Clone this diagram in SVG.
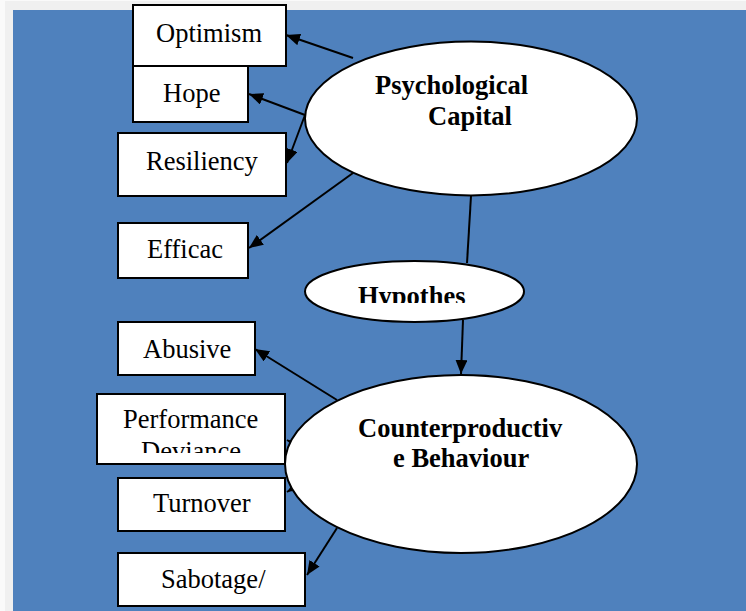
<svg xmlns="http://www.w3.org/2000/svg" width="746" height="611" viewBox="0 0 746 611">
<style>
.box{fill:#fff;stroke:#000;stroke-width:2}
.ell{fill:#fff;stroke:#000;stroke-width:2}
.lbl{font-family:"Liberation Serif","Times New Roman",serif;font-size:26.5px;fill:#000}
.bold{font-family:"Liberation Serif","Times New Roman",serif;font-size:26.5px;font-weight:bold;fill:#000}
.con{stroke:#000;stroke-width:2;fill:none}
</style>
<defs>
<marker id="arr" viewBox="0 0 14 12" refX="14" refY="6" markerWidth="14" markerHeight="12" markerUnits="userSpaceOnUse" orient="auto">
<path d="M0,0 L14,6 L0,12 Z" fill="#000"/>
</marker>
<clipPath id="clipHyp"><rect x="300" y="255" width="230" height="48"/></clipPath>
<clipPath id="clipPerf"><rect x="90" y="390" width="200" height="63"/></clipPath>
</defs>
<rect x="0" y="0" width="746" height="611" fill="#fafafa"/>
<rect x="5" y="1" width="741" height="610" fill="#f0f0f0"/>
<rect x="13" y="10" width="733" height="601" fill="#4f81bd"/>
<g id="connectors">
<line class="con" x1="353" y1="58" x2="286" y2="35" marker-end="url(#arr)"/>
<line class="con" x1="305" y1="115" x2="249" y2="94" marker-end="url(#arr)"/>
<line class="con" x1="305" y1="115" x2="287" y2="163" marker-end="url(#arr)"/>
<line class="con" x1="353" y1="173" x2="249" y2="248" marker-end="url(#arr)"/>
<line class="con" x1="471" y1="196" x2="467" y2="263"/>
<line class="con" x1="463" y1="320" x2="461" y2="374" marker-end="url(#arr)"/>
<line class="con" x1="337" y1="400" x2="255" y2="349" marker-end="url(#arr)"/>
<line class="con" x1="312" y1="454" x2="287" y2="440" marker-end="url(#arr)"/>
<line class="con" x1="312" y1="476" x2="287" y2="492" marker-end="url(#arr)"/>
<line class="con" x1="337" y1="528" x2="307" y2="575" marker-end="url(#arr)"/>
</g>
<g id="optimism"><rect class="box" x="133" y="5" width="153" height="61"/><text class="lbl" x="156" y="42">Optimism</text></g>
<g id="hope"><rect class="box" x="133" y="66" width="115" height="56"/><text class="lbl" x="163" y="102">Hope</text></g>
<g id="resiliency"><rect class="box" x="118" y="133" width="168" height="63"/><text class="lbl" x="146" y="170">Resiliency</text></g>
<g id="efficac"><rect class="box" x="118" y="223" width="130" height="55"/><text class="lbl" x="147" y="258">Efficac</text></g>
<g id="psycap"><ellipse class="ell" cx="471" cy="118.5" rx="166" ry="77"/><text class="bold" x="375" y="94">Psychological</text><text class="bold" x="428" y="125">Capital</text></g>
<g id="hypothes"><ellipse class="ell" cx="414.5" cy="291.5" rx="109.5" ry="30.5"/><text class="bold" x="358" y="305" clip-path="url(#clipHyp)">Hypothes</text></g>
<g id="abusive"><rect class="box" x="118" y="322" width="137" height="53"/><text class="lbl" x="143" y="358">Abusive</text></g>
<g id="performance"><rect class="box" x="97" y="394" width="188" height="70"/><g clip-path="url(#clipPerf)"><text class="lbl" x="123" y="428">Performance</text><text class="lbl" x="141" y="460">Deviance</text></g></g>
<g id="turnover"><rect class="box" x="118" y="478" width="167" height="53"/><text class="lbl" x="153" y="512">Turnover</text></g>
<g id="sabotage"><rect class="box" x="118" y="553" width="187" height="53"/><text class="lbl" x="161" y="588">Sabotage/</text></g>
<g id="cwb"><ellipse class="ell" cx="461" cy="464" rx="176" ry="89"/><text class="bold" x="358" y="437">Counterproductiv</text><text class="bold" x="393" y="467">e Behaviour</text></g>
</svg>
